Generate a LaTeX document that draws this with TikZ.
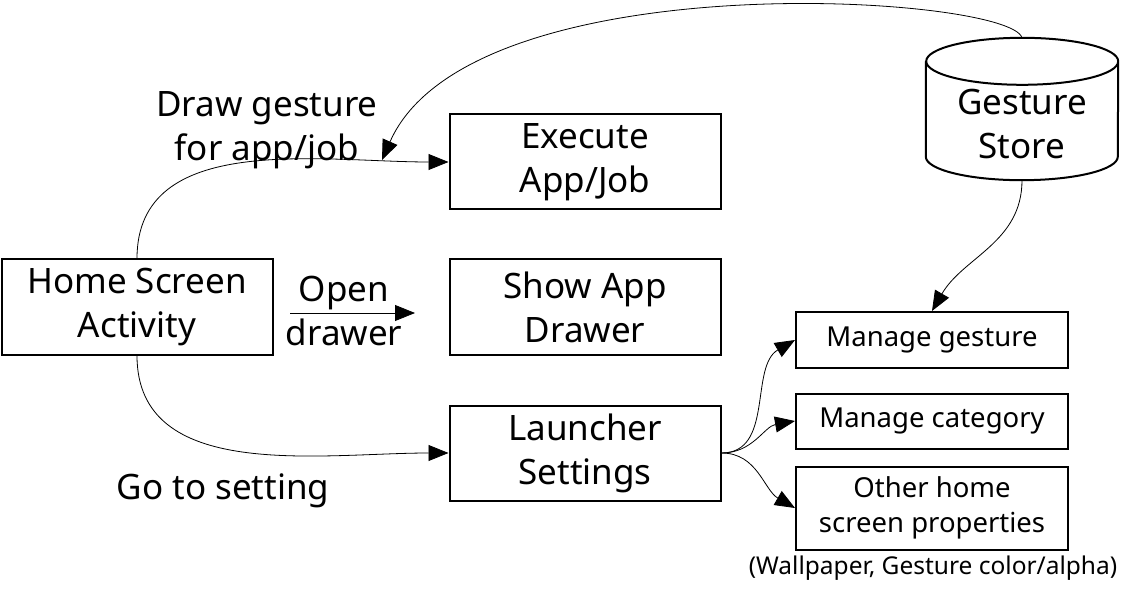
\documentclass[tikz,border=0pt]{standalone}
\usepackage{fontspec}
\setmainfont{Noto Sans}
\usetikzlibrary{arrows.meta}

\tikzset{
  box/.style={draw, line width=2pt, minimum width=271, minimum height=95, align=center,
    font=\fontsize{35}{44}\selectfont},
  smallbox/.style={draw, line width=2pt, minimum width=272, align=center,
    font=\fontsize{27.5}{35}\selectfont},
  store/.style={inner sep=0pt, minimum width=192, minimum height=142,
    font=\fontsize{35}{44}\selectfont},
  lbl/.style={align=center, font=\fontsize{35}{44}\selectfont},
  link/.style={line width=0.8pt, -{Triangle[length=20pt,width=16pt]}}
}

\begin{document}
\begin{tikzpicture}[x=1pt, y=-1pt]
  \useasboundingbox (0,0) rectangle (1133,596);
  \node[box] (home) at (137,307) {Home Screen\\Activity};
  \node[box] (exec) at (585,162) {Execute\\App/Job};
  \node[box] (drawer) at (585,307) {Show App\\Drawer};
  \node[box] (settings) at (585,453) {Launcher\\Settings};
  \node[smallbox, minimum height=56] (mgest) at (932,340) {Manage gesture};
  \node[smallbox, minimum height=55] (mcat) at (932,421) {Manage category};
  \node[smallbox, minimum height=83] (other) at (932,508) {Other home\\screen properties};
  \node[store] (gstore) at (1022,109)
    {\raisebox{-19pt}[\height][\depth]{\begin{tabular}{@{}c@{}}Gesture\\Store\end{tabular}}};
  \draw[line width=2pt] ([yshift=-23.5pt]gstore.north west) -- ([yshift=23.5pt]gstore.south west)
    arc[start angle=180, end angle=360, x radius=96pt, y radius=23.5pt]
    -- ([yshift=-23.5pt]gstore.north east)
    arc[start angle=0, end angle=360, x radius=96pt, y radius=23.5pt];

  \node[lbl] (drawlbl) at (267,130) {Draw gesture\\for app/job};
  \node[lbl] (openlbl) at (344,311) {Open\\drawer};
  \node[lbl] (setlbl) at (223,491) {Go to setting};
  \node[font=\fontsize{24.5}{30}\selectfont] (wall) at (933,568) {(Wallpaper, Gesture color/alpha)};

  \coordinate (od1) at (290,313);
  \coordinate (od2) at (415,313);
  \coordinate (gtip) at (382,160);

  \draw[link] (od1) -- (od2);
  \draw[link] (home.north) to[out=90, in=180] (exec.west);
  \draw[link] (home.south) to[out=-90, in=180] (settings.west);
  \draw[link] (gstore.north) .. controls (1010,-5) and (470,-40) .. (gtip);
  \draw[link] (gstore.south) to[out=-90, in=60] (mgest.north);
  \draw[link] (settings.east) to[out=0, in=210] (mgest.west);
  \draw[link] (settings.east) to[out=0, in=190] (mcat.west);
  \draw[link] (settings.east) to[out=0, in=150] (other.west);
\end{tikzpicture}
\end{document}
